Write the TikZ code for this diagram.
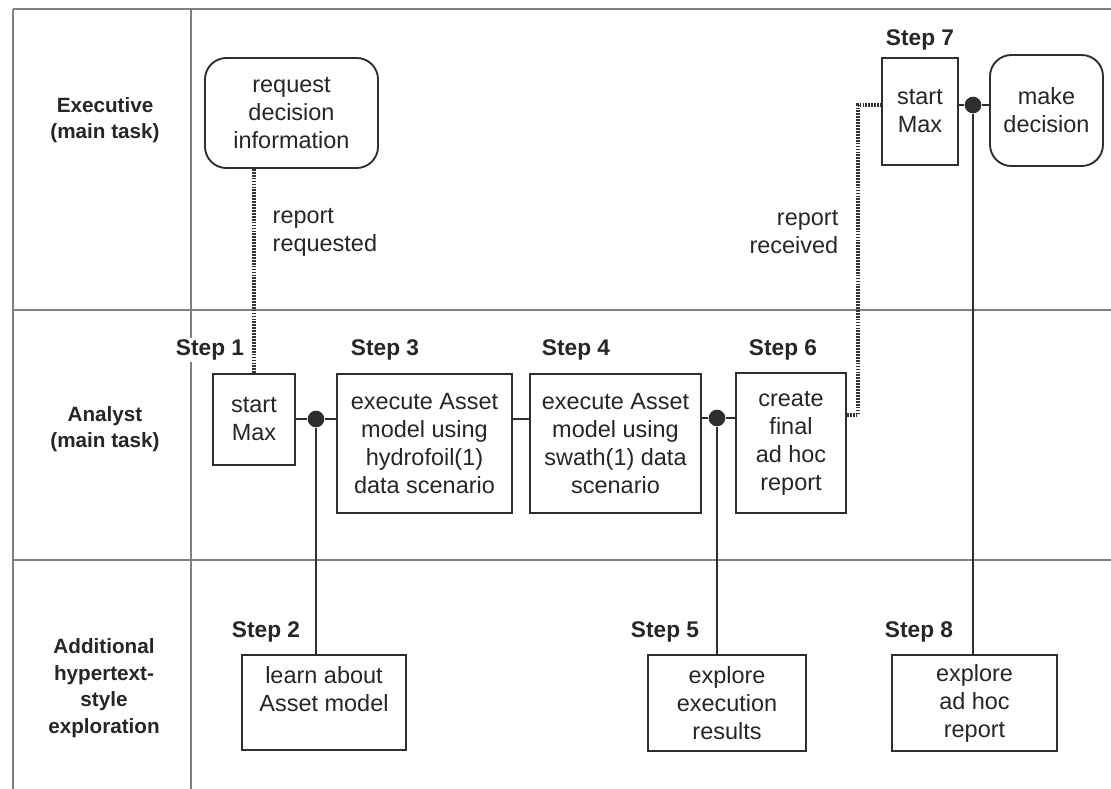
\documentclass[tikz,border=0pt]{standalone}
\usepackage{fontspec}
\setmainfont{Liberation Sans}
\begin{document}
\begin{tikzpicture}[x=0.75pt,y=-0.75pt,
  grid/.style={black!50,line width=0.9pt},
  box/.style={draw=black!82,line width=1.4pt,fill=white,inner sep=0pt,align=center,text=black!85,
    font=\fontsize{17.6}{21}\selectfont},
  rbox/.style={box,rounded corners=16pt},
  lane/.style={align=center,text=black!85,font=\fontsize{15.5}{20}\selectfont\bfseries},
  steplbl/.style={text=black!85,font=\fontsize{17}{21}\selectfont\bfseries,inner sep=1pt},
  note/.style={text=black!85,font=\fontsize{17.6}{21}\selectfont},
  conn/.style={draw=black!82,line width=1.4pt},
  dotline/.style={draw=black!80,line width=2.4pt,dash pattern=on 1.3pt off 0.9pt},
  dotn/.style={circle,fill=black!82,inner sep=0pt,minimum size=12.5pt}]
\useasboundingbox (0,0) rectangle (1111,789);
% frame and swimlanes
\draw[grid] (13,9) -- (1111,9);
\draw[grid] (13,9) -- (13,789);
\draw[grid] (191,9) -- (191,789);
\draw[grid] (13,310) -- (1111,310);
\draw[grid] (13,560) -- (1111,560);
% lane labels
\node[lane] (l1) at (105,120) {Executive\\(main task)};
\node[lane] (l2) at (105,429) {Analyst\\(main task)};
\node[lane] (l3) at (104,688) {Additional\\hypertext-\\style\\exploration};
% nodes
\node[rbox,minimum width=129.75pt,minimum height=82.5pt] (req) at (291.5,113) {request\\decision\\information};
\node[box,minimum width=61.5pt,minimum height=68.25pt] (s1) at (254,419.5) {start\\Max};
\node[box,minimum width=131.25pt,minimum height=104.25pt] (s3) at (424.5,443.5) {execute Asset\\model using\\hydrofoil(1)\\data scenario};
\node[box,minimum width=128.25pt,minimum height=104.25pt] (s4) at (615.5,443.5) {execute Asset\\model using\\swath(1) data\\scenario};
\node[box,minimum width=82.5pt,minimum height=105pt] (s6) at (791,443) {create\\final\\ad hoc\\report};
\node[box,minimum width=57pt,minimum height=80.25pt] (s7) at (920,111.5) {start\\Max};
\node[rbox,minimum width=84.75pt,minimum height=83.25pt] (dec) at (1046.5,110.5) {make\\decision};
\node[box,minimum width=123pt,minimum height=71.25pt] (s2) at (324,702.5) {learn about\\Asset model\\\mbox{}};
\node[box,minimum width=118.5pt,minimum height=72pt] (s5) at (727,703) {explore\\execution\\results};
\node[box,minimum width=123.75pt,minimum height=72pt] (s8) at (974.5,703) {explore\\ad hoc\\report};
% step labels
\node[steplbl,fill=white] (t1) at (210,350) {Step 1};
\node[steplbl] (t3) at (385,350) {Step 3};
\node[steplbl] (t4) at (576,350) {Step 4};
\node[steplbl] (t6) at (783,350) {Step 6};
\node[steplbl] (t7) at (920,40) {Step 7};
\node[steplbl] (t2) at (266,632) {Step 2};
\node[steplbl] (t5) at (665,632) {Step 5};
\node[steplbl] (t8) at (919,632) {Step 8};
% notes
\node[note,anchor=west,align=left] (n1) at (268,232) {report\\requested};
\node[note,anchor=east,align=right] (n2) at (843,232) {report\\received};
% dots
\node[dotn] (d1) at (316,419) {};
\node[dotn] (d2) at (717,418) {};
\node[dotn] (d3) at (973,105) {};
\coordinate (rr) at (858,415);
% dotted connectors
\draw[dotline] (req.south -| s1.north) -- (s1.north);
\draw[dotline] (s6.east |- rr) -- (rr) |- (s7.west |- d3);
% solid connectors
\draw[conn] (s1.east |- d1) -- (d1) -- (s3.west |- d1);
\draw[conn] (s3.east |- d1) -- (s4.west |- d1);
\draw[conn] (s4.east |- d2) -- (d2) -- (s6.west |- d2);
\draw[conn] (s7.east |- d3) -- (d3) -- (dec.west |- d3);
\draw[conn] (d1) -- (s2.north -| d1);
\draw[conn] (d2) -- (s5.north -| d2);
\draw[conn] (d3) -- (s8.north -| d3);
\end{tikzpicture}
\end{document}
